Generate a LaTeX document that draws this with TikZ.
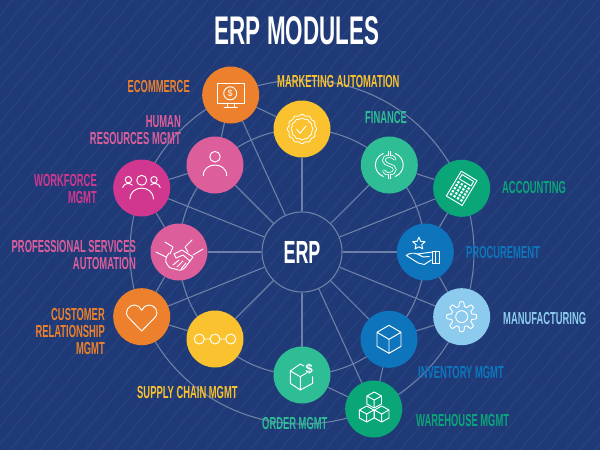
\documentclass[tikz,border=0pt]{standalone}
\usepackage{fontspec}
\setmainfont{Liberation Sans}
\newfontfamily\narrowbold[FakeStretch=0.56]{Liberation Sans Bold}
\newfontfamily\labelbold[FakeStretch=0.54]{Liberation Sans Bold}
\usetikzlibrary{backgrounds}
\definecolor{bgnavy}{HTML}{1F3A76}
\definecolor{stripe}{HTML}{2B4783}
\definecolor{wire}{HTML}{6F80A8}
\definecolor{corange}{HTML}{EC802C}
\definecolor{cyellow}{HTML}{F9C22E}
\definecolor{cpink}{HTML}{DC5E9B}
\definecolor{cmagenta}{HTML}{D1378E}
\definecolor{cmint}{HTML}{2EBD94}
\definecolor{cgreen}{HTML}{0BA678}
\definecolor{cblue}{HTML}{0E75BC}
\definecolor{csky}{HTML}{8CCBEE}
\tikzset{
  module/.style={circle,minimum size=57pt,inner sep=0pt,outer sep=0pt,fill=#1},
  lab/.style={font=\labelbold\fontsize{17.4}{17}\selectfont,inner sep=0pt,text=#1},
  link/.style={draw=wire,line width=1.1pt},
  icon/.style={draw=white,line width=.95pt,line join=round,line cap=round},
  bigtext/.style={text=white,inner sep=0pt}
}
\newcommand{\cubeicon}[4]{% x y halfwidth halfheight
  \draw[icon,shift={(#1,#2)}] (0,-#4) -- (#3,-#4/2) -- (#3,#4/2) -- (0,#4) -- (-#3,#4/2) -- (-#3,-#4/2) -- cycle
    (-#3,-#4/2) -- (0,0) -- (#3,-#4/2) (0,0) -- (0,#4);}
\begin{document}
\begin{tikzpicture}[x=1pt,y=-1pt]
\useasboundingbox (0,0) rectangle (600,450);
% nodes
\node[circle,minimum size=80pt,inner sep=0pt,draw=wire,line width=1.1pt,bigtext,font=\narrowbold\fontsize{32}{32}\selectfont] (erp) at (302,252) {ERP};
\node[module=corange] (ecom) at (230.7,95) {};
\node[module=cyellow] (mark) at (302,129) {};
\node[module=cpink] (hr) at (215,165) {};
\node[module=cmagenta] (work) at (141.7,188) {};
\node[module=cpink] (prof) at (179,252) {};
\node[module=corange] (crm) at (141.7,316.7) {};
\node[module=cyellow] (supply) at (215,339) {};
\node[module=cmint] (order) at (302,375) {};
\node[module=cgreen] (ware) at (373.7,409) {};
\node[module=cblue] (inv) at (389,339.3) {};
\node[module=csky] (manu) at (461.7,316.7) {};
\node[module=cblue] (proc) at (425.3,252) {};
\node[module=cgreen] (acct) at (461.7,188.3) {};
\node[module=cmint] (fin) at (389.3,165) {};
% background, rings, connectors
\begin{scope}[on background layer]
\fill[bgnavy] (0,0) rectangle (600,450);
\begin{scope}
\clip (0,0) rectangle (600,450);
\foreach \sx in {-380,-365,...,600}
  \draw[stripe,line width=.8pt] (\sx,450) -- (\sx+378,0);
\end{scope}
\draw[link] (erp.center) circle[radius=172pt];
\draw[link] (erp.center) circle[radius=123pt];
\foreach \m in {ecom,mark,hr,work,prof,crm,supply,order,ware,inv,manu,proc,acct,fin}
  \draw[link] (erp) -- (\m);
\foreach \a/\b in {ecom/mark,ecom/hr,work/hr,work/prof,prof/crm,crm/supply,order/ware,inv/ware,inv/manu,proc/manu,proc/acct,fin/acct}
  \draw[link] (\a) -- (\b);
\end{scope}
% title and labels
\node[bigtext,font=\narrowbold\fontsize{40}{40}\selectfont] (title) at (297,31) {ERP MODULES};
\node[lab=corange,anchor=east] (l1) at (190,87) {ECOMMERCE};
\node[lab=cyellow,anchor=west] (l2) at (277,82) {MARKETING AUTOMATION};
\node[lab=cpink,anchor=east,align=right] (l3) at (181,130.5) {HUMAN\\RESOURCES MGMT};
\node[lab=cmagenta,anchor=east,align=right] (l4) at (97,189.5) {WORKFORCE\\MGMT};
\node[lab=cpink,anchor=east,align=right] (l5) at (136,255.5) {PROFESSIONAL SERVICES\\AUTOMATION};
\node[lab=corange,anchor=east,align=right] (l6) at (105,332) {CUSTOMER\\RELATIONSHIP\\MGMT};
\node[lab=cyellow,anchor=west] (l7) at (137,393) {SUPPLY CHAIN MGMT};
\node[lab=cmint,anchor=west] (l8) at (262,424) {ORDER MGMT};
\node[lab=cgreen,anchor=west] (l9) at (416,421) {WAREHOUSE MGMT};
\node[lab=cblue,anchor=west] (l10) at (418,373) {INVENTORY MGMT};
\node[lab=csky,anchor=west] (l11) at (503,319) {MANUFACTURING};
\node[lab=cblue,anchor=west] (l12) at (466,253) {PROCUREMENT};
\node[lab=cgreen,anchor=west] (l13) at (502,188) {ACCOUNTING};
\node[lab=cmint,anchor=west] (l14) at (365,118) {FINANCE};
% icons
\begin{scope}[shift={(ecom.center)}]
\draw[icon] (-13,-12) rectangle (13.3,8) (-3.5,8) -- (-3.5,12.7) (3.5,8) -- (3.5,12.7) (-6.5,12.7) -- (6.5,12.7);
\draw[icon] (-.5,-1.7) circle[radius=6.5pt];
\node[text=white,inner sep=0pt,font=\fontsize{9}{9}\selectfont] (dollarA) at (-.5,-1.7) {\$};
\end{scope}
\begin{scope}[shift={(mark.center)}]
\draw[icon,line width=.8pt] plot[smooth cycle,samples=49,domain=0:352.5] ({(14+.8*cos(12*\x))*cos(\x)},{(14+.8*cos(12*\x))*sin(\x)});
\draw[icon,line width=.8pt] plot[smooth cycle,samples=49,domain=0:352.5] ({(10.5+.5*cos(12*\x))*cos(\x)},{(10.5+.5*cos(12*\x))*sin(\x)});
\draw[icon] (-5.3,.3) -- (-2,4.3) -- (4,-3);
\end{scope}
\begin{scope}[shift={(hr.center)}]
\draw[icon] (0,-8.3) circle[radius=5.3pt];
\draw[icon] (-11.7,10.7) .. controls (-11.7,-3.5) and (11.7,-3.5) .. (11.7,10.7);
\end{scope}
\begin{scope}[shift={(work.center)}]
\draw[icon] (0,-7.7) circle[radius=5pt] (-13.3,-8.3) circle[radius=3.2pt] (12.3,-8.3) circle[radius=3.2pt];
\draw[icon] (-11.7,11) .. controls (-11.7,-3.5) and (11.7,-3.5) .. (11.7,11);
\draw[icon] (-19,-.5) .. controls (-18,-5) and (-12,-5.5) .. (-9.5,-3);
\draw[icon] (18.5,-.5) .. controls (17.5,-5) and (11.5,-5.5) .. (9,-3);
\end{scope}
\begin{scope}[shift={(prof.center)}]
\draw[icon] (-23,0) -- (-13,5) (-14,-10) -- (-6,-5) -- (-9,2) (24,-3) -- (14,3) (13,-12) -- (6,-5) -- (9,0);
\draw[icon] (-10,1) .. controls (-14,6) and (-14,10) .. (-12,12) .. controls (-10,18) and (-4,16) .. (-1,18) .. controls (3,19) and (6,16) .. (8,13) -- (14,5) -- (3,-2) -- (-5,2) -- (-3,6) -- (4,3) -- (11,9);
\draw[icon] (-2,15) -- (4,9) (2,17) -- (7,11) (-6,13) -- (0,8);
\end{scope}
\begin{scope}[shift={(crm.center)}]
\draw[icon] (0,14.3) -- (-13.5,.5) .. controls (-18,-5) and (-13,-12) .. (-7,-11.7) .. controls (-4,-11.7) and (-1.5,-9.5) .. (0,-6.5) .. controls (1.5,-9.5) and (4,-11.7) .. (7,-11.7) .. controls (13,-12) and (18,-5) .. (13.5,.5) -- cycle;
\end{scope}
\begin{scope}[shift={(supply.center)}]
\draw[icon] (-15.7,0) circle[radius=5pt] (0,0) circle[radius=5pt] (15.7,0) circle[radius=5pt] (-10.7,0) -- (-5,0) (5,0) -- (10.7,0);
\end{scope}
\begin{scope}[shift={(order.center)}]
\draw[icon] (2,-9) -- (-1.7,-11) -- (-11.7,-4) -- (-11.7,8.3) -- (-1.7,15) -- (10.7,8.3) -- (10.7,1.7) (-11.7,-4) -- (-1.7,1.7) -- (-1.7,15) (-1.7,1.7) -- (4.5,-2);
\node[text=white,inner sep=0pt,font=\fontsize{13}{13}\selectfont\bfseries] (dollarB) at (7.3,-6) {\$};
\end{scope}
\begin{scope}[shift={(ware.center)}]
\cubeicon{0.5}{-9}{7.3}{8}
\cubeicon{-7}{5}{7.3}{8}
\cubeicon{8}{5}{7.3}{8}
\end{scope}
\begin{scope}[shift={(inv.center)}]
\cubeicon{0}{0}{12}{14}
\end{scope}
\begin{scope}[shift={(manu.center)}]
\draw[icon] plot[smooth cycle,samples=121,domain=0:357] ({(12.7+2.3*max(-1,min(1,2*cos(8*\x))))*cos(\x)},{(12.7+2.3*max(-1,min(1,2*cos(8*\x))))*sin(\x)});
\draw[icon] (0,0) circle[radius=6pt];
\end{scope}
\begin{scope}[shift={(proc.center)}]
\draw[icon] plot[samples=11,domain=0:360] ({-6.4+(mod(round(\x/36),2)==0?6.5:3)*cos(\x-90)},{-8.3+(mod(round(\x/36),2)==0?6.5:3)*sin(\x-90)}) -- cycle;
\draw[icon] (7,0) -- (-8,2) .. controls (-12,.5) and (-16,1) .. (-19,3.5) -- (-7,11) -- (-1,12.5) -- (6,8) (-8,2) -- (-2,5) -- (4,4.5);
\draw[icon] (7.3,-1) rectangle (14,11.7) (9.8,-1) -- (9.8,11.7);
\end{scope}
\begin{scope}[shift={(acct.center)},rotate=-31]
\draw[icon] (-9.2,-14.5) rectangle (9.2,14.5) (-6.8,-12) rectangle (6.8,-6.8);
\foreach \gy in {-3.5,0,3.5,7,10.5}
  \foreach \gx in {-6,-2,2,6}
    \fill[white] (\gx-1.1,\gy-1.1) rectangle (\gx+1.1,\gy+1.1);
\end{scope}
\begin{scope}[shift={(fin.center)}]
\draw[icon] (-6,-11.5) .. controls (-16.5,-7) and (-16.5,7) .. (-6,11.5) (6,-11.5) .. controls (16.5,-7) and (16.5,7) .. (6,11.5);
\draw[draw=white,double=cmint,double distance=1.7pt,line width=.8pt,line cap=round] (5.5,-6) .. controls (4,-10) and (-6,-10) .. (-5.5,-4.5) .. controls (-5,1) and (5.5,-1) .. (5.5,4.5) .. controls (5.5,10) and (-4.5,10) .. (-5.5,6);
\draw[draw=white,double=cmint,double distance=1.2pt,line width=.8pt] (0,-14) -- (0,-9) (0,9) -- (0,14);
\end{scope}
\end{tikzpicture}
\end{document}
